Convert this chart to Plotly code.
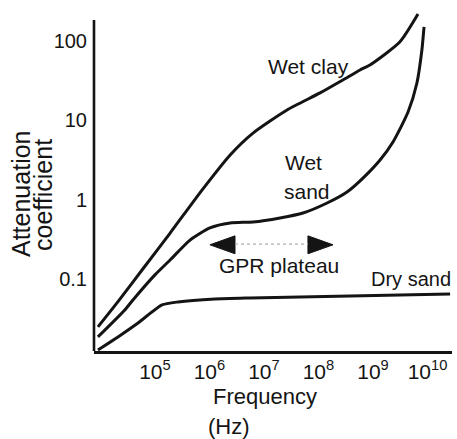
import numpy as np
import plotly.graph_objects as go

# ---------------- data ----------------
wet_clay_freq = [9.0e3, 2.1e4, 5.8e4, 1.9e5, 7.3e5, 2.4e6, 6.3e6, 2.65e7,
                 1.07e8, 2.8e8, 5.8e8, 8.8e8, 3.1e9, 6.7e9]
wet_clay_att = [0.025, 0.052, 0.13, 0.38, 1.32, 3.66, 6.9, 13.5,
                22.1, 32.2, 43.0, 49.7, 96.8, 218.0]

wet_sand_freq = [9.0e3, 2.8e4, 3.95e4, 1.0e5, 1.9e5, 4.4e5, 1.02e6, 2.4e6, 6.3e6,
                 1.97e7, 5.2e7, 1.44e8, 3.34e8, 6.56e8, 1.35e9, 2.33e9,
                 4.4e9, 6.4e9, 7.9e9, 8.65e9]
wet_sand_att = [0.0187, 0.0408, 0.0546, 0.113, 0.174, 0.310, 0.441, 0.509, 0.524,
                0.589, 0.679, 0.908, 1.25, 1.87, 3.16, 5.33,
                12.7, 29.5, 76.7, 150.0]

dry_sand_freq = [9.0e3, 2.1e4, 4.9e4, 1.35e5, 2.65e5, 1.26e6, 5.5e6, 4.6e7,
                 3.8e8, 3.1e9, 2.6e10]
dry_sand_att = [0.0128, 0.0187, 0.0280, 0.0472, 0.0515, 0.0561, 0.0578, 0.0596,
                0.0612, 0.0631, 0.0649]

plateau_freq = [1.02e6, 1.85e8]   # GPR plateau arrow tips
plateau_level = 0.27               # attenuation level of the arrow

x_tickvals = [1e5, 1e6, 1e7, 1e8, 1e9, 1e10]
x_ticktext = ["10<sup>5</sup>", "10<sup>6</sup>", "10<sup>7</sup>",
              "10<sup>8</sup>", "10<sup>9</sup>", "10<sup>10</sup>"]
y_tickvals = [0.1, 1, 10, 100]
y_ticktext = ["0.1", "1", "10", "100"]

# ---------------- figure ----------------
W, H = 457, 439
ML, MR, MT, MB = 94, 5, 10, 88
INK = "#141414"
FONT = "Liberation Sans, Arial, sans-serif"

fig = go.Figure()
line_style = dict(color=INK, width=3, shape="spline", smoothing=0.6)
for fx, fy, nm in [(wet_clay_freq, wet_clay_att, "Wet clay"),
                   (wet_sand_freq, wet_sand_att, "Wet sand"),
                   (dry_sand_freq, dry_sand_att, "Dry sand")]:
    fig.add_trace(go.Scatter(x=fx, y=fy, mode="lines", name=nm, line=line_style,
                             hoverinfo="skip", cliponaxis=False))

# GPR plateau double arrow (heads drawn as filled triangles)
head_len = 0.46   # decades
head_half = 0.113  # decades
lx0 = np.log10(plateau_freq[0]); lx1 = np.log10(plateau_freq[1])
ly = np.log10(plateau_level)
for tip, d in [(lx0, 1), (lx1, -1)]:
    base = tip + d * head_len
    xs = 10 ** np.array([tip, base, base, tip])
    ys = 10 ** np.array([ly, ly + head_half, ly - head_half, ly])
    fig.add_trace(go.Scatter(x=xs, y=ys, mode="lines", fill="toself",
                             fillcolor=INK, line=dict(color=INK, width=1),
                             hoverinfo="skip", showlegend=False))
fig.add_trace(go.Scatter(x=10 ** np.array([lx0 + head_len, lx1 - head_len]),
                         y=[plateau_level * 1.02, plateau_level * 1.02],
                         mode="lines", line=dict(color="#b0b0b0", width=1.2, dash="dot"),
                         hoverinfo="skip", showlegend=False))

pw = W - ML - MR
ph = H - MT - MB


def P(px, py):
    return (px - ML) / pw, (H - MB - py) / ph


def label(text, px, py, size=21, angle=0, xanchor="center"):
    x, y = P(px, py)
    fig.add_annotation(x=x, y=y, xref="paper", yref="paper", text=text,
                       showarrow=False, textangle=angle, xanchor=xanchor,
                       yanchor="middle", font=dict(family=FONT, size=size, color=INK))


label("Wet clay", 308, 67)
label("Wet", 303, 162)
label("sand", 307, 191)
label("GPR plateau", 279, 265)
label("Dry sand", 411, 279, size=20)
label("Attenuation", 21, 194, size=25, angle=-90)
label("coefficient", 43, 195, size=25, angle=-90)
label("Frequency", 265, 397, size=22)
label("(Hz)", 229, 426, size=22)

# y axis line (hand-drawn, stops below the top of the plot)
fig.add_shape(type="line", xref="paper", yref="paper", x0=0, x1=0,
              y0=0, y1=P(0, 20)[1], line=dict(color=INK, width=2.6))

fig.update_layout(
    width=W, height=H, autosize=False,
    margin=dict(l=ML, r=MR, t=MT, b=MB),
    paper_bgcolor="white", plot_bgcolor="white",
    showlegend=False,
    font=dict(family=FONT, color=INK),
    xaxis=dict(type="log", range=[3.882, 10.450], tickvals=x_tickvals,
               ticktext=x_ticktext, ticks="", showgrid=False, zeroline=False,
               showline=True, linecolor=INK, linewidth=2.6,
               tickfont=dict(size=21, family=FONT, color=INK)),
    yaxis=dict(type="log", range=[-1.906, 2.389], tickvals=y_tickvals,
               ticktext=y_ticktext, ticks="", showgrid=False, zeroline=False,
               showline=False, ticklabelstandoff=6,
               tickfont=dict(size=20, family=FONT, color=INK)),
)

fig.write_html("out.html", config={"displayModeBar": False},
               post_script="document.body.style.margin='0';")
